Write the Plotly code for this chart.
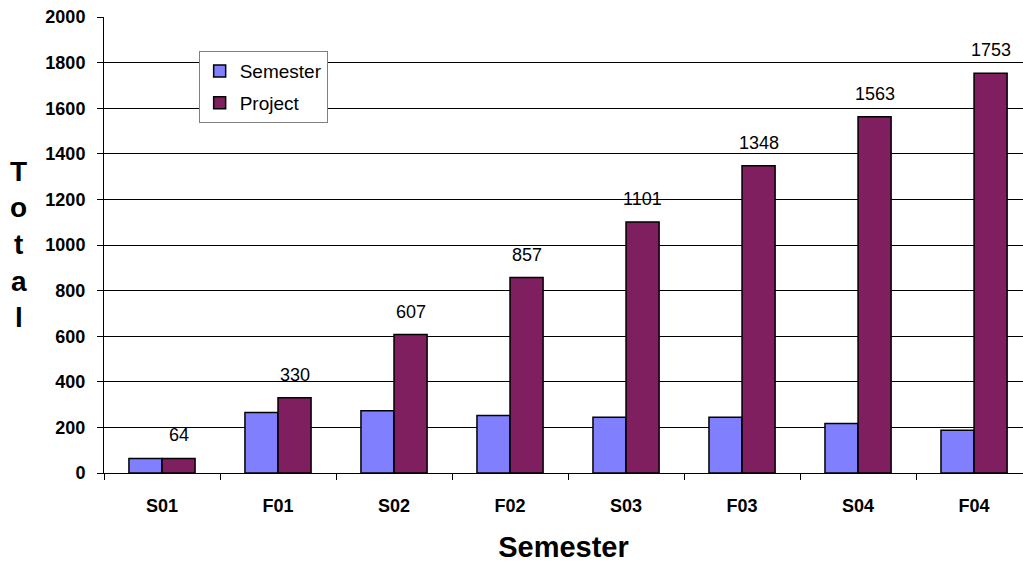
import plotly.graph_objects as go

categories = ["S01", "F01", "S02", "F02", "S03", "F03", "S04", "F04"]
semester = [64, 265, 273, 252, 244, 244, 217, 188]
project = [64, 330, 607, 857, 1101, 1348, 1563, 1753]
y_ticks = list(range(0, 2001, 200))
y_title_letters = ["T", "o", "t", "a", "l"]

fig = go.Figure()
fig.add_trace(go.Bar(
    x=categories, y=semester, name="Semester", legendgroup="a",
    marker=dict(color="#8080FF", line=dict(color="black", width=1.5)),
))
fig.add_trace(go.Bar(
    x=categories, y=project, name="Project", legendgroup="b",
    marker=dict(color="#7F1F5F", line=dict(color="black", width=1.5)),
))

for c, v in zip(categories, project):
    fig.add_annotation(x=c, y=v, text=str(v), showarrow=False, xshift=16.5,
                       yanchor="bottom", yshift=11,
                       font=dict(family="Arial", size=18, color="black"))

# stacked vertical axis title
for i, ch in enumerate(y_title_letters):
    fig.add_annotation(x=-0.093, xref="paper", y=0.662 - i * 0.0805, yref="paper",
                       text=ch, showarrow=False,
                       font=dict(family="Arial", size=28, color="black", weight="bold"),
                       xanchor="center", yanchor="middle")

fig.update_layout(
    width=1023, height=565,
    margin=dict(l=104, r=0, t=17, b=92),
    paper_bgcolor="white", plot_bgcolor="white",
    barmode="group", bargap=0.43, bargroupgap=0,
    font=dict(family="Arial", color="black"),
    legend=dict(x=0.103, y=0.925, xanchor="left", yanchor="top",
                bordercolor="#808080", borderwidth=1, bgcolor="white",
                font=dict(family="Arial", size=19, color="black"),
                traceorder="grouped", tracegroupgap=4, itemwidth=30),
    xaxis=dict(range=[-0.5, len(categories) - 0.578], automargin=False,
               showline=True, linecolor="black", linewidth=1,
               ticks="outside", ticklen=6, tickcolor="black", tickson="boundaries",
               ticklabelstandoff=16,
               tickfont=dict(family="Arial", size=18, color="black", weight="bold"),
               title=dict(text="Semester", standoff=22,
                          font=dict(family="Arial", size=29, color="black", weight="bold"))),
    yaxis=dict(range=[0, 2000], tickvals=y_ticks, automargin=False,
               showline=True, linecolor="black",
               linewidth=1, ticks="outside", ticklen=6, tickcolor="black",
               ticklabelstandoff=8,
               showgrid=True, gridcolor="black", gridwidth=1, zeroline=False,
               tickfont=dict(family="Arial", size=18, color="black", weight="bold")),
)

fig.write_html("out.html")
